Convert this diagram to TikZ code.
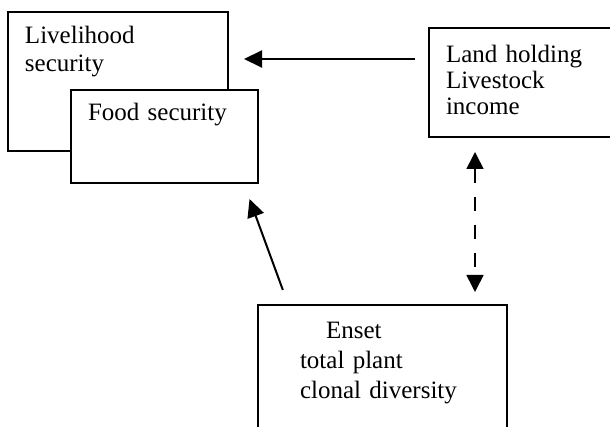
\documentclass[tikz,border=0pt]{standalone}
\usepackage{fontspec}
\setmainfont{Liberation Serif}
\usepackage{tikz}
\usetikzlibrary{arrows.meta}

\begin{document}
\begin{tikzpicture}[x=0.5pt,y=-0.5pt,
  box/.style={draw, line width=1pt, rectangle, anchor=north west, align=left, inner xsep=8.5pt, inner ysep=0pt, font=\fontsize{12.5}{14}\selectfont},
  arr/.style={line width=1pt, -{Triangle[length=9pt,width=8.5pt]}},
  dasharr/.style={line width=0.8pt, dash pattern=on 7pt off 7pt, {Triangle[length=8.5pt,width=8.5pt]}-{Triangle[length=8.5pt,width=8.5pt]}}]

\useasboundingbox (0,0) rectangle (610,427);

\node[box, text width=93pt, text height=16pt, text depth=53.5pt] (live) at (7,11) {Livelihood\\security};
\node[box, fill=white, text width=76.5pt, text height=15.5pt, text depth=31pt] (food) at (70,89) {Food security};
\node[box, minimum width=120pt, text width=103pt, text height=17.5pt, text depth=37pt, font=\fontsize{12.5}{13}\selectfont] (land) at (428,27) {Land holding\\Livestock\\income};
\node[box, inner xsep=21pt, text width=82.5pt, text height=16.5pt, text depth=51.5pt, font=\fontsize{12.5}{15}\selectfont] (enset) at (257,304) {\hspace*{13pt}Enset\\total plant\\clonal diversity};

\coordinate (landout) at ([yshift=11.75pt]land.west);
\draw[arr, shorten <=6.5pt, shorten >=7.5pt] (landout) -- (landout -| live.east);

\draw[arr, shorten <=7.5pt, shorten >=8pt] ([xshift=15.5pt]enset.north west) -- ([xshift=-7.5pt]food.south east);

\coordinate (landlink) at ([xshift=23.5pt]land.south west);
\draw[dasharr, shorten <=7pt, shorten >=6pt] (landlink) -- (landlink |- enset.north);

\end{tikzpicture}
\end{document}
